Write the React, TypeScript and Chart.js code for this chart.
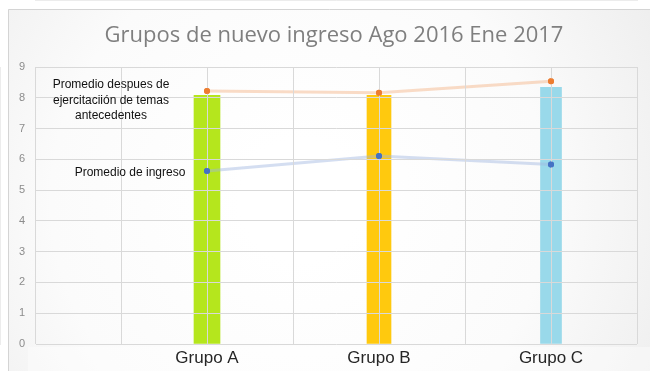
import React, { useEffect, useRef } from 'react';
import { Chart, registerables } from 'chart.js';

Chart.register(...registerables);

const TITLE = 'Grupos de nuevo ingreso Ago 2016 Ene 2017';
const categories = ['Grupo A', 'Grupo B', 'Grupo C'];
const barValues = [8.08, 8.08, 8.34];
const afterValues = [8.22, 8.16, 8.54];
const entryValues = [5.62, 6.11, 5.83];
const barColors = ['#b5e61d', '#ffc90e', '#99d9ea'];
const barWidths = [26, 24, 21];
const afterLabel = ['Promedio despues de', 'ejercitaciión de temas', 'antecedentes'];
const entryLabel = 'Promedio de ingreso';
const yMax = 9;
const xMax = 7;

// each group sits on every second unit of the horizontal axis
const xPositions = categories.map((_, i) => 2 * (i + 1));

const GRID = '#d9d9d9';
const SANS = '"Liberation Sans", Arial, sans-serif';

const decorPlugin = {
  id: 'decor',
  beforeDraw(chart: any) {
    const { ctx, width, height } = chart;
    ctx.save();
    ctx.fillStyle = '#ffffff';
    ctx.fillRect(0, 0, width, height);
    const g = ctx.createRadialGradient(300, 200, 60, 300, 200, 480);
    g.addColorStop(0, '#ffffff');
    g.addColorStop(0.45, '#fbfbfb');
    g.addColorStop(1, '#e8e8e8');
    ctx.fillStyle = g;
    ctx.fillRect(8, 9, width - 8, height - 9);
    ctx.fillStyle = 'rgba(255,255,255,0.4)';
    ctx.fillRect(28, 347, width - 28, height - 347);
    ctx.strokeStyle = '#d4d4d4';
    ctx.lineWidth = 1;
    ctx.beginPath();
    ctx.moveTo(8.5, height);
    ctx.lineTo(8.5, 9.5);
    ctx.lineTo(width, 9.5);
    ctx.stroke();
    ctx.restore();
  },
  afterDraw(chart: any) {
    const { ctx } = chart;
    ctx.save();
    // keep the line markers above the grid lines
    chart.data.datasets.forEach((ds: any, di: number) => {
      if (ds.type !== 'line') return;
      chart.getDatasetMeta(di).data.forEach((pt: any) => {
        ctx.fillStyle = ds.pointBackgroundColor;
        ctx.beginPath();
        ctx.arc(pt.x, pt.y, ds.pointRadius, 0, Math.PI * 2);
        ctx.fill();
      });
    });

    ctx.textAlign = 'center';
    ctx.textBaseline = 'middle';
    ctx.fillStyle = '#7f7f7f';
    ctx.font = '22px "Open Sans", sans-serif';
    ctx.fillText(TITLE, 334, 36);

    ctx.fillStyle = '#111111';
    ctx.font = '12px ' + SANS;
    afterLabel.forEach((line, i) => ctx.fillText(line, 111, 85 + i * 15.5));
    ctx.fillText(entryLabel, 130, 173);
    ctx.restore();
  },
};

export default function App() {
  const ref = useRef<HTMLCanvasElement>(null);

  useEffect(() => {
    if (!ref.current) return;
    const barSets = categories.map((name, i) => ({
      type: 'bar' as const,
      label: name,
      data: [{ x: xPositions[i], y: barValues[i] }],
      backgroundColor: barColors[i],
      barThickness: barWidths[i],
      grouped: false,
      order: 2,
    }));
    const chart = new Chart(ref.current, {
      type: 'bar',
      data: {
        datasets: [
          ...barSets,
          {
            type: 'line' as const,
            label: afterLabel.join(' '),
            data: xPositions.map((x, i) => ({ x, y: afterValues[i] })),
            borderColor: 'rgba(244,177,131,0.45)',
            borderWidth: 3,
            pointRadius: 3,
            pointBorderWidth: 0,
            pointBackgroundColor: '#ed7d31',
            order: 0,
          },
          {
            type: 'line' as const,
            label: entryLabel,
            data: xPositions.map((x, i) => ({ x, y: entryValues[i] })),
            borderColor: 'rgba(160,182,224,0.45)',
            borderWidth: 3,
            pointRadius: 3,
            pointBorderWidth: 0,
            pointBackgroundColor: '#4472c4',
            order: 0,
          },
        ] as any,
      },
      options: {
        responsive: false,
        animation: false,
        layout: { padding: { top: 67, right: 13, left: 0, bottom: 0 } },
        plugins: {
          legend: { display: false },
          tooltip: { enabled: false },
          title: { display: false },
        },
        scales: {
          x: {
            type: 'linear',
            min: 0,
            max: xMax,
            offset: false,
            grid: { color: GRID, drawTicks: false, offset: false, z: 1 },
            border: { color: GRID },
            ticks: {
              stepSize: 1,
              autoSkip: false,
              maxRotation: 0,
              padding: 4,
              color: '#262626',
              font: { family: SANS, size: 17 },
              callback: (v: any) => {
                const idx = xPositions.indexOf(Number(v));
                return idx >= 0 ? categories[idx] : '';
              },
            },
            afterFit: (s: any) => {
              s.height = 27;
            },
          },
          y: {
            min: 0,
            max: yMax,
            grid: { color: GRID, drawTicks: false, z: 1 },
            border: { color: GRID },
            ticks: {
              stepSize: 1,
              padding: 10,
              color: '#8c8c8c',
              font: { family: SANS, size: 11 },
            },
            afterFit: (s: any) => {
              s.width = 35;
            },
          },
        },
      } as any,
      plugins: [decorPlugin],
    });
    return () => chart.destroy();
  }, []);

  return (
    <canvas
      ref={ref}
      width={650}
      height={371}
      style={{ position: 'fixed', left: 0, top: 0, display: 'block' }}
    />
  );
}
